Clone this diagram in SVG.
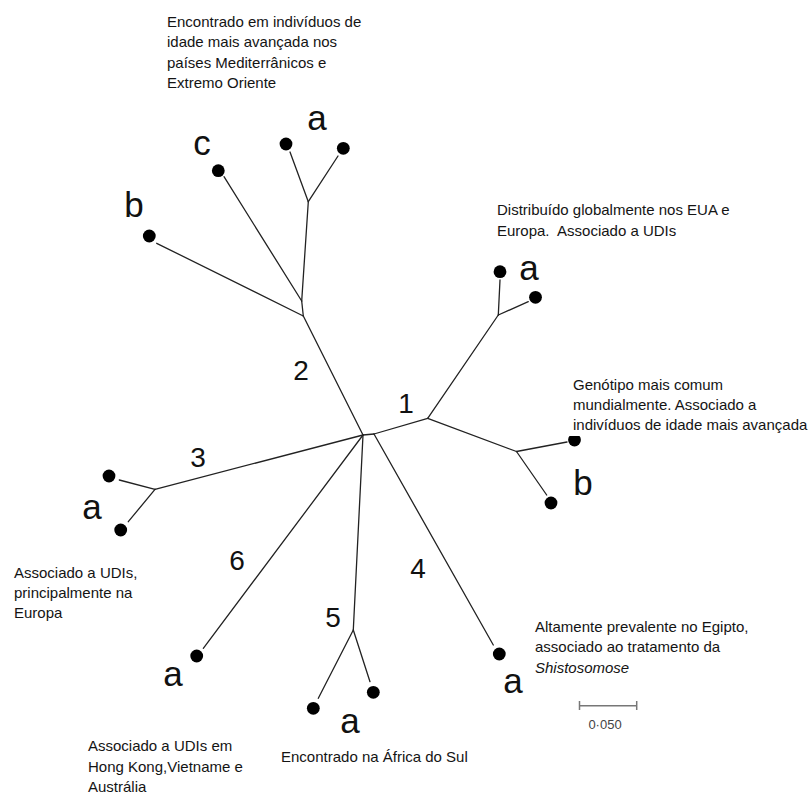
<svg xmlns="http://www.w3.org/2000/svg" width="809" height="796" viewBox="0 0 809 796">
<style>
  .t { font-family: "Liberation Sans", Arial, sans-serif; font-size: 15px; fill: #141414; }
  .pre { white-space: pre; }
  .lbl { font-family: "Liberation Sans", Arial, sans-serif; font-size: 35px; fill: #111; text-anchor: middle; }
  .num { font-family: "Liberation Sans", Arial, sans-serif; font-size: 28px; fill: #111; text-anchor: middle; }
  .br { fill: none; stroke: #222; stroke-width: 1.3; stroke-linecap: round; stroke-linejoin: round; }
  .leaf { fill: #000; }
  .sc { stroke: #777; stroke-width: 1.5; fill: none; }
</style>
<defs>
  <clipPath id="clipTop"><rect x="560" y="436" width="30" height="20"/></clipPath>
</defs>
<rect width="809" height="796" fill="#fff"/>

<g id="connectors">
  <polyline class="br" points="363,435 374,434"/>
  <polyline class="br" points="374,434 427.7,418.3"/>
  <polyline class="br" points="427.7,418.3 498.3,315"/>
  <polyline class="br" points="498.3,315 500,280"/>
  <polyline class="br" points="498.3,315 528.3,301.7"/>
  <polyline class="br" points="427.7,418.3 516.5,451.5"/>
  <polyline class="br" points="516.5,451.5 567,442"/>
  <polyline class="br" points="516.5,451.5 546.7,495"/>
  <polyline class="br" points="363,435 303.3,316"/>
  <polyline class="br" points="303.3,316 156.7,243.3"/>
  <polyline class="br" points="303.3,316 301.7,301"/>
  <polyline class="br" points="301.7,301 224,176.7"/>
  <polyline class="br" points="301.7,301 308.3,201.7"/>
  <polyline class="br" points="308.3,201.7 290,152"/>
  <polyline class="br" points="308.3,201.7 338,156"/>
  <polyline class="br" points="363,435 155,489.3"/>
  <polyline class="br" points="155,489.3 119.3,480"/>
  <polyline class="br" points="155,489.3 128.3,521.7"/>
  <polyline class="br" points="374,434 493.3,645"/>
  <polyline class="br" points="363,435 353.3,630"/>
  <polyline class="br" points="353.3,630 318.3,698.3"/>
  <polyline class="br" points="353.3,630 370,681.7"/>
  <polyline class="br" points="363,435 203.3,648.3"/>
</g>

<g id="leaf-2a-1"><circle class="leaf" cx="286" cy="144" r="6.4"/></g>
<g id="leaf-2a-2"><circle class="leaf" cx="343.3" cy="148.3" r="6.4"/></g>
<g id="leaf-2c"><circle class="leaf" cx="218.3" cy="170.7" r="6.4"/></g>
<g id="leaf-2b"><circle class="leaf" cx="149.3" cy="236" r="6.4"/></g>
<g id="leaf-1a-1"><circle class="leaf" cx="500" cy="271.7" r="6.4"/></g>
<g id="leaf-1a-2"><circle class="leaf" cx="535.5" cy="297.3" r="6.4"/></g>
<g id="leaf-1b-1"><circle class="leaf" cx="574.5" cy="440" r="6.4" clip-path="url(#clipTop)"/></g>
<g id="leaf-1b-2"><circle class="leaf" cx="551" cy="503" r="6.4"/></g>
<g id="leaf-3a-1"><circle class="leaf" cx="109" cy="476" r="6.4"/></g>
<g id="leaf-3a-2"><circle class="leaf" cx="120.7" cy="530" r="6.4"/></g>
<g id="leaf-6a"><circle class="leaf" cx="196.7" cy="656" r="6.4"/></g>
<g id="leaf-5a-1"><circle class="leaf" cx="313.3" cy="708.3" r="6.4"/></g>
<g id="leaf-5a-2"><circle class="leaf" cx="373.3" cy="692.3" r="6.4"/></g>
<g id="leaf-4a"><circle class="leaf" cx="499.3" cy="654" r="6.4"/></g>

<g id="subtype-labels">
  <text class="lbl" x="317" y="130">a</text>
  <text class="lbl" x="202" y="155">c</text>
  <text class="lbl" x="134" y="217">b</text>
  <text class="lbl" x="529" y="280">a</text>
  <text class="lbl" x="583" y="495">b</text>
  <text class="lbl" x="92" y="519">a</text>
  <text class="lbl" x="173" y="686">a</text>
  <text class="lbl" x="350" y="733">a</text>
  <text class="lbl" x="513" y="693">a</text>
</g>

<g id="genotype-numbers">
  <text class="num" x="406" y="413">1</text>
  <text class="num" x="301" y="380">2</text>
  <text class="num" x="198" y="467">3</text>
  <text class="num" x="418" y="578">4</text>
  <text class="num" x="333" y="627">5</text>
  <text class="num" x="237" y="570">6</text>
</g>

<g id="note-2">
  <text class="t" x="167" y="26.5">Encontrado em indivíduos de</text>
  <text class="t" x="167" y="47">idade mais avançada nos</text>
  <text class="t" x="167" y="67.5">países Mediterrânicos e</text>
  <text class="t" x="167" y="88">Extremo Oriente</text>
</g>
<g id="note-1a">
  <text class="t" x="497" y="215">Distribuído globalmente nos EUA e</text>
  <text class="t pre" x="497" y="235.5" xml:space="preserve">Europa.  Associado a UDIs</text>
</g>
<g id="note-1b">
  <text class="t" x="573" y="390">Genótipo mais comum</text>
  <text class="t" x="573" y="410">mundialmente. Associado a</text>
  <text class="t" x="573" y="430">indivíduos de idade mais avançada</text>
</g>
<g id="note-3">
  <text class="t" x="14" y="578">Associado a UDIs,</text>
  <text class="t" x="14" y="598">principalmente na</text>
  <text class="t" x="14" y="618">Europa</text>
</g>
<g id="note-6">
  <text class="t" x="88" y="751">Associado a UDIs em</text>
  <text class="t" x="88" y="772">Hong Kong,Vietname e</text>
  <text class="t" x="88" y="792">Austrália</text>
</g>
<g id="note-5">
  <text class="t" x="281" y="762">Encontrado na África do Sul</text>
</g>
<g id="note-4">
  <text class="t" x="535" y="632">Altamente prevalente no Egipto,</text>
  <text class="t" x="535" y="652">associado ao tratamento da</text>
  <text class="t" x="535" y="673" font-style="italic">Shistosomose</text>
</g>

<g id="scale-bar">
  <line class="sc" x1="579.5" y1="705.7" x2="636.7" y2="705.7"/>
  <line class="sc" x1="579.5" y1="701" x2="579.5" y2="710"/>
  <line class="sc" x1="636.7" y1="701" x2="636.7" y2="710"/>
  <text x="605" y="729" font-family="Liberation Sans, Arial, sans-serif" font-size="13" fill="#444" text-anchor="middle">0·050</text>
</g>
</svg>
